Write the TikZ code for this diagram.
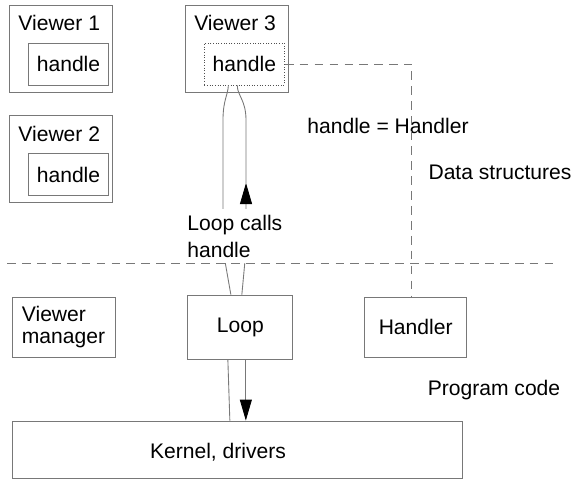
\documentclass[tikz,border=0pt]{standalone}
\usepackage{fontspec}
\setmainfont{Liberation Sans}
\usetikzlibrary{arrows.meta,positioning}
\definecolor{linegray}{RGB}{120,120,120}
\definecolor{dotgray}{RGB}{80,80,80}

\begin{document}
\begin{tikzpicture}[
  x=0.02cm, y=-0.02cm,
  font=\fontsize{12}{14}\selectfont,
  node distance=0.46cm and 1.44cm,
  frame/.style={rectangle, draw=linegray, line width=0.5pt,
    minimum width=2.06cm, minimum height=1.74cm},
  hbox/.style={rectangle, draw=linegray, line width=0.5pt, inner sep=0pt,
    minimum width=1.6cm, minimum height=0.84cm},
  selbox/.style={hbox, draw=dotgray, densely dotted},
  box/.style={rectangle, draw=linegray, line width=0.5pt,
    minimum width=2.06cm, minimum height=1.2cm},
  title/.style={inner sep=0pt},
  wire/.style={draw=linegray, line width=0.5pt},
  dline/.style={wire, dash pattern=on 5pt off 3.5pt},
  arr/.style={wire, -{Triangle[length=4.2mm, width=2.4mm, color=black]}}
]
\useasboundingbox (0,0) rectangle (578,485);

% data structures
\node[frame] (v1) at (61,48.5) {};
\node[frame, below=of v1] (v2) {};
\node[frame, right=of v1] (v3) {};
\node[title, below right=0.2cm and 0.18cm of v1.north west] (v1title) {Viewer 1};
\node[title, below right=0.2cm and 0.18cm of v2.north west] (v2title) {Viewer 2};
\node[title, below right=0.2cm and 0.18cm of v3.north west] (v3title) {Viewer 3};
\node[hbox, above left=0.14cm and 0.08cm of v1.south east] (h1) {handle};
\node[hbox, above left=0.14cm and 0.08cm of v2.south east] (h2) {handle};
\node[selbox, above left=0.14cm and 0.08cm of v3.south east] (h3) {handle};

\node (eqn) at (388,126) {handle = Handler};
\node (datalbl) at (500,172) {Data structures};

% program code
\node[box, align=left, font=\fontsize{12}{12.5}\selectfont] (vm) at (63.5,327) {Viewer\\manager};
\node[box, right=of vm, minimum width=2.1cm, minimum height=1.28cm] (loop) {Loop};
\node[box, right=1.42cm of loop, minimum width=2.04cm] (handler) {Handler};
\node[box, minimum width=9cm, minimum height=1.14cm,
  label={[xshift=-0.38cm, yshift=-0.05cm]center:Kernel, drivers}] (kernel) at (237,449.5) {};
\node (codelbl) at (494,390) {Program code};

% loop calls handle
\coordinate (uptip) at (246,183);
\draw[wire] ([xshift=-0.19cm]loop.north) -- (223,250) -- (223,120)
  .. controls (223,100) and (228,95) .. ([xshift=-0.32cm]h3.south);
\draw[arr] ([xshift=0.03cm]loop.north) -- (246,250) -- (uptip);
\draw[wire] (uptip) -- (246,120)
  .. controls (246,100) and (237,95) .. ([xshift=-0.14cm]h3.south);
\node[fill=white, inner xsep=0pt, inner ysep=0.12cm, align=left, anchor=west,
  font=\fontsize{12}{15.4}\selectfont] (calls) at (187,236) {Loop calls\\handle};

\coordinate (sepL) at (7,263);
\coordinate (sepR) at (555,263);
\draw[dline] (sepL) -- (sepR);

\draw[dline] (h3.east) -| ([xshift=-0.08cm]handler.north);

% loop into the kernel
\draw[arr] ([xshift=0.11cm]loop.south) -- ([xshift=0.11cm]loop.south |- kernel.north);
\draw[wire] ([xshift=-0.21cm]loop.south |- kernel.north) -- ([xshift=-0.25cm]loop.south);
\end{tikzpicture}
\end{document}
